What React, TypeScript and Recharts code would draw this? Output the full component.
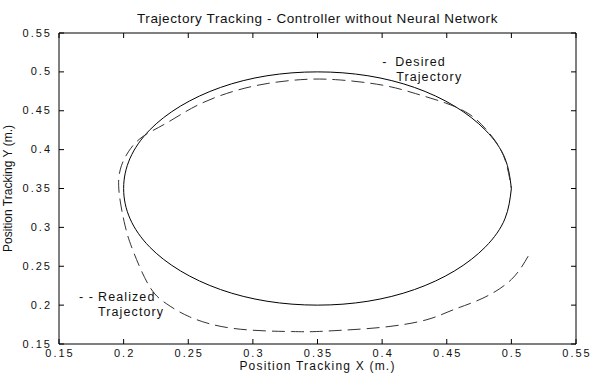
import React from 'react';
import { LineChart, Line, XAxis, YAxis, ReferenceDot } from 'recharts';

const titleText = 'Trajectory Tracking - Controller without Neural Network';
const xLabelText = 'Position Tracking X (m.)';
const yLabelText = 'Position Tracking Y (m.)';

const xTicks = [0.15, 0.2, 0.25, 0.3, 0.35, 0.4, 0.45, 0.5, 0.55];
const yTicks = [0.15, 0.2, 0.25, 0.3, 0.35, 0.4, 0.45, 0.5, 0.55];
const tickLabels = ['0.15', '0.2', '0.25', '0.3', '0.35', '0.4', '0.45', '0.5', '0.55'];

// Desired trajectory (solid)
const desiredX = [0.5, 0.495, 0.48, 0.456, 0.425, 0.389, 0.35, 0.311, 0.275, 0.244, 0.22, 0.205, 0.2, 0.205, 0.22, 0.244, 0.275, 0.311, 0.35, 0.389, 0.425, 0.456, 0.48, 0.495, 0.5];
const desiredY = [0.35, 0.389, 0.425, 0.456, 0.48, 0.495, 0.5, 0.495, 0.48, 0.456, 0.425, 0.389, 0.35, 0.311, 0.275, 0.244, 0.22, 0.205, 0.2, 0.205, 0.22, 0.244, 0.275, 0.311, 0.35];

// Realized trajectory (dashed)
const realizedX = [0.513, 0.5, 0.478, 0.455, 0.434, 0.403, 0.372, 0.349, 0.33, 0.285, 0.251, 0.233, 0.22, 0.2075, 0.201, 0.1965, 0.1975, 0.204, 0.215, 0.233, 0.257, 0.285, 0.311, 0.337, 0.364, 0.4, 0.426, 0.449, 0.468, 0.482, 0.494, 0.5];
const realizedY = [0.263, 0.233, 0.209, 0.194, 0.181, 0.172, 0.168, 0.166, 0.166, 0.17, 0.185, 0.202, 0.224, 0.269, 0.303, 0.345, 0.375, 0.398, 0.417, 0.434, 0.457, 0.475, 0.485, 0.49, 0.49, 0.483, 0.472, 0.46, 0.445, 0.423, 0.392, 0.35];

const desired = desiredX.map((x, i) => ({ x, y: desiredY[i] }));
const realized = realizedX.map((x, i) => ({ x, y: realizedY[i] }));

const FONT = '"Liberation Sans", Arial, sans-serif';
const labelFor = (v: number) => tickLabels[xTicks.findIndex((t) => Math.abs(t - v) < 1e-9)] ?? String(v);

const BottomTick = (props: any) => {
  const { x, y, payload } = props;
  return (
    <g>
      <line x1={x} x2={x} y1={y} y2={y - 5} stroke="#000" strokeWidth={1} />
      <text x={x + 1} y={y + 13} textAnchor="middle" fontFamily={FONT} fontSize={11} letterSpacing={2} fill="#111">
        {labelFor(payload.value)}
      </text>
    </g>
  );
};
const TopTick = (props: any) => {
  const { x, y } = props;
  return <line x1={x} x2={x} y1={y} y2={y + 5} stroke="#000" strokeWidth={1} />;
};
const LeftTick = (props: any) => {
  const { x, y, payload } = props;
  return (
    <g>
      <line x1={x} x2={x + 5} y1={y} y2={y} stroke="#000" strokeWidth={1} />
      <text x={x - 7} y={y + 3.5} textAnchor="end" fontFamily={FONT} fontSize={11} letterSpacing={2} fill="#111">
        {labelFor(payload.value)}
      </text>
    </g>
  );
};
const RightTick = (props: any) => {
  const { x, y } = props;
  return <line x1={x} x2={x - 5} y1={y} y2={y} stroke="#000" strokeWidth={1} />;
};

const TitleLabel = (props: any) => {
  const vb = props.viewBox || {};
  return (
    <text x={vb.x + vb.width / 2} y={23} textAnchor="middle" fontFamily={FONT} fontSize={13.5} letterSpacing={0.6} fill="#111">
      {titleText}
    </text>
  );
};
const XLabel = (props: any) => {
  const vb = props.viewBox || {};
  return (
    <text x={vb.x + vb.width / 2} y={370} textAnchor="middle" fontFamily={FONT} fontSize={12} letterSpacing={1.2} fill="#111">
      {xLabelText}
    </text>
  );
};
const YLabel = (props: any) => {
  const vb = props.viewBox || {};
  const cy = vb.y + vb.height / 2;
  return (
    <text x={12} y={cy} transform={`rotate(-90 12 ${cy})`} textAnchor="middle" fontFamily={FONT} fontSize={12} fill="#111">
      {yLabelText}
    </text>
  );
};

const DesiredNote = (props: any) => {
  const vb = props.viewBox || {};
  return (
    <g fontFamily={FONT} fontSize={12.5} letterSpacing={1.1} fill="#111">
      <text x={vb.x} y={vb.y + 4}>-</text>
      <text x={vb.x + 13} y={vb.y + 4}>Desired</text>
      <text x={vb.x + 14} y={vb.y + 19}>Trajectory</text>
    </g>
  );
};
const RealizedNote = (props: any) => {
  const vb = props.viewBox || {};
  return (
    <g fontFamily={FONT} fontSize={12.5} letterSpacing={1.1} fill="#111">
      <text x={vb.x} y={vb.y + 4}>- -</text>
      <text x={vb.x + 19} y={vb.y + 4}>Realized</text>
      <text x={vb.x + 19} y={vb.y + 19}>Trajectory</text>
    </g>
  );
};

export default function App() {
  return (
    <div style={{ position: 'absolute', left: 0, top: 0, width: 596, height: 374, background: '#fff' }}>
      <LineChart width={596} height={374} margin={{ top: 32, right: 19, left: 0, bottom: 0 }}>
        <XAxis
          dataKey="x"
          type="number"
          domain={[0.15, 0.55]}
          ticks={xTicks}
          allowDataOverflow
          height={30}
          tickSize={0}
          tickMargin={0}
          tickLine={false}
          axisLine={{ stroke: '#000' }}
          tick={BottomTick}
          interval={0}
          label={XLabel}
        />
        <XAxis
          xAxisId="top"
          orientation="top"
          dataKey="x"
          type="number"
          domain={[0.15, 0.55]}
          ticks={xTicks}
          allowDataOverflow
          height={1}
          tickSize={0}
          tickMargin={0}
          tickLine={false}
          axisLine={{ stroke: '#000' }}
          tick={TopTick}
          interval={0}
          label={TitleLabel}
        />
        <YAxis
          dataKey="y"
          type="number"
          domain={[0.15, 0.55]}
          ticks={yTicks}
          allowDataOverflow
          width={59}
          tickSize={0}
          tickMargin={0}
          tickLine={false}
          axisLine={{ stroke: '#000' }}
          tick={LeftTick}
          interval={0}
          label={YLabel}
        />
        <YAxis
          yAxisId="right"
          orientation="right"
          dataKey="y"
          type="number"
          domain={[0.15, 0.55]}
          ticks={yTicks}
          allowDataOverflow
          width={1}
          tickSize={0}
          tickMargin={0}
          tickLine={false}
          axisLine={{ stroke: '#000' }}
          tick={RightTick}
          interval={0}
        />
        <Line
          data={desired}
          dataKey="y"
          type="natural"
          stroke="#000"
          strokeWidth={1}
          dot={false}
          activeDot={false}
          isAnimationActive={false}
        />
        <Line
          data={realized}
          dataKey="y"
          type="natural"
          stroke="#333"
          strokeWidth={1}
          strokeDasharray="13 6"
          dot={false}
          activeDot={false}
          isAnimationActive={false}
        />
        <ReferenceDot x={0.4} y={0.5127} r={0} fill="none" stroke="none" ifOverflow="visible" label={DesiredNote} />
        <ReferenceDot x={0.1655} y={0.2105} r={0} fill="none" stroke="none" ifOverflow="visible" label={RealizedNote} />
      </LineChart>
    </div>
  );
}
